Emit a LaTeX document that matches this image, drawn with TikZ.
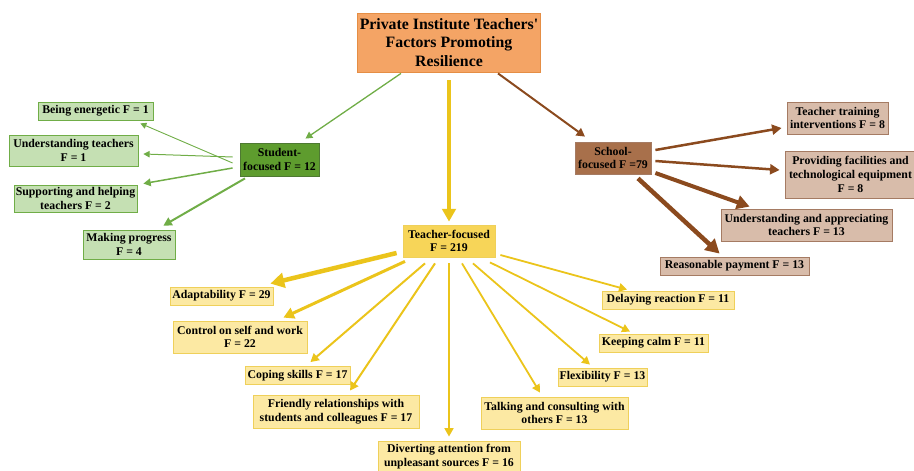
\documentclass[tikz,border=0pt]{standalone}
\usepackage{fontspec}
\setmainfont{Liberation Serif}[Ligatures=TeXOff]
\usetikzlibrary{arrows.meta}
\definecolor{titlefill}{HTML}{F4A465}
\definecolor{titleline}{HTML}{E58E45}
\definecolor{stdark}{HTML}{5E9C2E}
\definecolor{stlight}{HTML}{C5E0B3}
\definecolor{stline}{HTML}{70AD47}
\definecolor{scdark}{HTML}{A8704B}
\definecolor{sclight}{HTML}{D8BCAA}
\definecolor{scbox}{HTML}{A57B63}
\definecolor{scline}{HTML}{8B4A1E}
\definecolor{tcdark}{HTML}{F7D558}
\definecolor{tclight}{HTML}{FCE9A3}
\definecolor{tcbox}{HTML}{EFD05A}
\definecolor{tcline}{HTML}{EBC41B}
\begin{document}
\begin{tikzpicture}[x=1pt,y=-1pt,
  box/.style={draw, align=center, inner xsep=1pt, inner ysep=1.5pt, line width=0.8pt,
    font=\bfseries\fontsize{11.8}{13.6}\selectfont},
  stmain/.style={box, fill=stdark, draw=stline!70!black},
  stsub/.style={box, fill=stlight, draw=stline},
  scmain/.style={box, fill=scdark, draw=scbox},
  scsub/.style={box, fill=sclight, draw=scbox},
  tcmain/.style={box, fill=tcdark, draw=tcbox},
  tcsub/.style={box, fill=tclight, draw=tcbox},
  link/.style={-{Triangle[length=4pt 2.2, width=4pt 2.4]}, line width=#1},
  stlink/.style={link=#1, draw=stline},
  sclink/.style={link=#1, draw=scline},
  tclink/.style={link=#1, draw=tcline}]
\useasboundingbox (0,0) rectangle (914,471);
% top
\node[box, fill=titlefill, draw=titleline, minimum width=183pt, minimum height=59pt,
  font=\bfseries\fontsize{15.8}{18.5}\selectfont] (title) at (449,42.5)
  {Private Institute Teachers'\\Factors Promoting\\Resilience};
% three themes
\node[stmain, minimum width=79pt, minimum height=33pt] (student) at (279.5,159.5) {Student-\\focused F = 12};
\node[scmain, minimum width=76pt, minimum height=32pt] (school) at (613,158) {School-\\focused F =79};
\node[tcmain, minimum width=92pt, minimum height=32pt] (teacher) at (449,241) {Teacher-focused\\F = 219};
% student-focused
\node[stsub, minimum width=115pt, minimum height=18pt] (energetic) at (95.5,111) {Being energetic F = 1};
\node[stsub, minimum width=129pt, minimum height=31pt] (understand) at (73.5,150.5) {Understanding teachers\\F = 1};
\node[stsub, minimum width=123pt, minimum height=27pt] (support) at (75.5,198.5) {Supporting and helping\\teachers F = 2};
\node[stsub, minimum width=92pt, minimum height=29pt] (progress) at (129,244.5) {Making progress\\F = 4};
% school-focused
\node[scsub, minimum width=101pt, minimum height=32pt] (training) at (837.5,118) {Teacher training\\interventions F = 8};
\node[scsub, minimum width=131pt, minimum height=47pt] (facilities) at (850.5,174.5) {Providing facilities and\\technological equipment\\F = 8};
\node[scsub, minimum width=171pt, minimum height=32pt] (appreciate) at (806.5,225) {Understanding and appreciating\\teachers F = 13};
\node[scsub, minimum width=149pt, minimum height=18pt] (payment) at (734.5,266) {Reasonable payment F = 13};
% teacher-focused
\node[tcsub, minimum width=103pt, minimum height=18pt] (adapt) at (221.5,296) {Adaptability F = 29};
\node[tcsub, minimum width=134pt, minimum height=32pt] (control) at (240,337) {Control on self and work\\F = 22};
\node[tcsub, minimum width=105pt, minimum height=18pt] (coping) at (297.5,375.5) {Coping skills F = 17};
\node[tcsub, minimum width=166pt, minimum height=33pt] (friendly) at (336,411.5) {Friendly relationships with\\students and colleagues F = 17};
\node[tcsub, minimum width=142pt, minimum height=31pt] (divert) at (449,456.5) {Diverting attention from\\unpleasant sources F = 16};
\node[tcsub, minimum width=147pt, minimum height=32pt] (talking) at (554.5,413) {Talking and consulting with\\others F = 13};
\node[tcsub, minimum width=89pt, minimum height=18pt] (flex) at (602.5,377) {Flexibility F = 13};
\node[tcsub, minimum width=109pt, minimum height=18pt] (calm) at (653.5,343) {Keeping calm F = 11};
\node[tcsub, minimum width=132pt, minimum height=18pt] (delay) at (668,300) {Delaying reaction F = 11};
% arrows from the title
\draw[stlink=1.3pt] ([shift={(-48,1)}]title.south) -- ([shift={(26,-4)}]student.north);
\draw[tclink=4pt] ([shift={(0,8)}]title.south) -- ([shift={(0,-3)}]teacher.north);
\draw[sclink=2pt] ([shift={(49,1)}]title.south) -- ([shift={(-28,-5)}]school.north);
% student arrows
\draw[stlink=0.9pt] ([shift={(-7,3.5)}]student.west) -- ([shift={(-13,3)}]energetic.south east);
\draw[stlink=1pt] ([shift={(-7,-2.5)}]student.west) -- ([shift={(5,3.5)}]understand.east);
\draw[stlink=1.5pt] ([shift={(-7,8.5)}]student.west) -- ([shift={(6,-1)}]support.north east);
\draw[stlink=2pt] ([shift={(-34.5,2)}]student.south) -- ([shift={(-12,-4)}]progress.north east);
% school arrows
\draw[sclink=2.5pt] ([shift={(4,-8)}]school.east) -- ([shift={(-5,10)}]training.west);
\draw[sclink=2.5pt] ([shift={(4,3)}]school.east) -- ([shift={(-5,-4.5)}]facilities.west);
\draw[sclink=4pt] ([shift={(4,15)}]school.east) -- ([shift={(29,-2)}]appreciate.north west);
\draw[sclink=4.5pt] ([shift={(25,4)}]school.south) -- ([shift={(60,-3)}]payment.north west);
% teacher arrows
\draw[tclink=4.5pt] ([shift={(-6,12)}]teacher.west) -- ([shift={(-3,-3)}]adapt.north east);
\draw[tclink=3pt] ([shift={(-44,4)}]teacher.south) -- ([shift={(-24,-3)}]control.north east);
\draw[tclink=2pt] ([shift={(-24,6)}]teacher.south) -- ([shift={(-40,-4)}]coping.north east);
\draw[tclink=2pt] ([shift={(-14,6)}]teacher.south) -- ([shift={(14,-4)}]friendly.north);
\draw[tclink=2pt] ([shift={(0,6)}]teacher.south) -- ([shift={(0,-4)}]divert.north);
\draw[tclink=1.8pt] ([shift={(13,6)}]teacher.south) -- ([shift={(-14.5,-4)}]talking.north);
\draw[tclink=1.8pt] ([shift={(24,6)}]teacher.south) -- ([shift={(-12.5,-3)}]flex.north);
\draw[tclink=1.8pt] ([shift={(41,5)}]teacher.south) -- ([shift={(-23.5,-2)}]calm.north);
\draw[tclink=1.8pt] ([shift={(5,14)}]teacher.east) -- ([shift={(-41,-1)}]delay.north);
\end{tikzpicture}
\end{document}
